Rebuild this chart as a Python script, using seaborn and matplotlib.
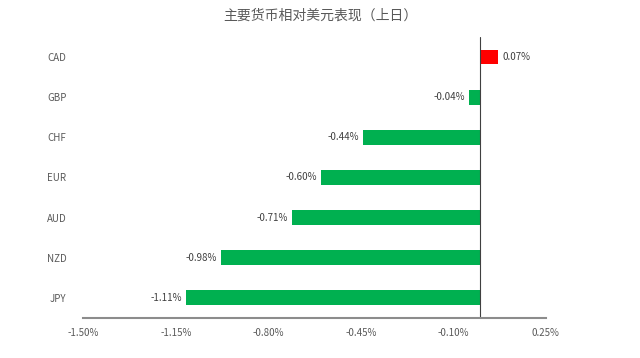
#!/usr/bin/env python3

import numpy as np
import pandas as pd
import matplotlib
from matplotlib import pyplot as plt
import seaborn as sns

currencies = ['CAD', 'GBP', 'CHF', 'EUR', 'AUD', 'NZD', 'JPY']
changes = [0.07, -0.04, -0.44, -0.60, -0.71, -0.98, -1.11]
xticks = [-1.50, -1.15, -0.80, -0.45, -0.10, 0.25]
title = '主要货币相对美元表现（上日）'

df = pd.DataFrame({'currency': currencies, 'change': changes})
colors = ['#FF0000' if v > 0 else '#00B050' for v in changes]

sns.set_style('white')
plt.rcParams['font.family'] = ['Noto Sans CJK SC', 'DejaVu Sans']

fig = plt.figure(figsize=(6.4, 3.58), dpi=100)
ax = fig.add_axes([0.13, 0.112, 0.723, 0.785])

sns.barplot(data=df, x='change', y='currency', hue='currency', palette=colors,
            legend=False, width=0.37, orient='h', saturation=1, linewidth=0, ax=ax)

ax.set_xlim(-1.5, 0.25)
ax.set_xticks(xticks)
ax.set_xticklabels(['{:.2f}%'.format(t) for t in xticks], fontsize=7, color='#595959')
ax.tick_params(axis='y', labelsize=7, labelcolor='#595959', length=0, pad=12)
ax.tick_params(axis='x', length=0, pad=7)
ax.set_xlabel('')
ax.set_ylabel('')

for s in ['top', 'right', 'left']:
    ax.spines[s].set_visible(False)
ax.spines['bottom'].set_color('#8c8c8c')
ax.spines['bottom'].set_linewidth(1.5)

ax.axvline(0, color='#404040', linewidth=0.8)

# value labels
for i, v in enumerate(changes):
    if v >= 0:
        ax.annotate('{:.2f}%'.format(v), (v, i), xytext=(3, 0), textcoords='offset points',
                    ha='left', va='center', fontsize=7, color='#404040')
    else:
        ax.annotate('{:.2f}%'.format(v), (v, i), xytext=(-3, 0), textcoords='offset points',
                    ha='right', va='center', fontsize=7, color='#404040')

fig.suptitle(title, y=0.975, fontsize=10, color='#595959')

plt.savefig('out.png', dpi=100)
